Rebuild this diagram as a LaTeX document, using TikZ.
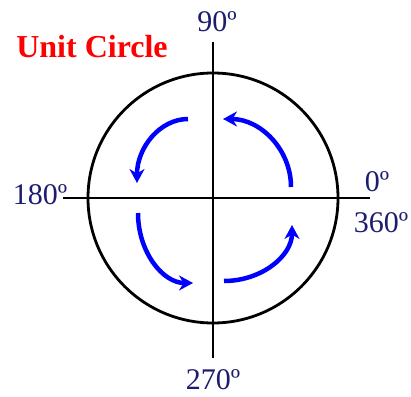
\documentclass[tikz,border=0pt]{standalone}
\usepackage{fontspec}
\setmainfont{Liberation Serif}
\usetikzlibrary{arrows.meta}
\definecolor{degnavy}{RGB}{28,28,112}
\tikzset{
  deglabel/.style={text=degnavy, inner sep=0pt, font=\fontsize{30}{36}\selectfont},
  turn/.style={blue, line width=4.5pt, -{Stealth[length=14pt,width=15pt]}}
}
\begin{document}
\begin{tikzpicture}[x=1pt, y=1pt]
    \useasboundingbox (-213,-198) rectangle (198,198);
    \coordinate (O) at (0,0);

    % Circle and axes
    \draw[line width=2.8pt] (O) circle[radius=125];
    \draw[line width=2.8pt] (-150,0) -- (157,0);
    \draw[line width=2.8pt] (0,156) -- (0,-160);

    % Title
    \node[text=red, inner sep=0pt, font=\fontsize{32}{38}\selectfont\bfseries] (title) at (-121,151) {Unit Circle};

    % Angle labels
    \node[deglabel] (deg90) at (4,176) {90º};
    \node[deglabel] (deg0) at (164,16) {0º};
    \node[deglabel] (deg180) at (-173,3) {180º};
    \node[deglabel] (deg360) at (168,-25) {360º};
    \node[deglabel] (deg270) at (0,-182) {270º};

    % Turning arrows, one per quadrant
    \draw[turn] (78,11) arc[start angle=0, end angle=90, radius=68];
    \draw[turn] (-25,79) arc[start angle=90, end angle=180, x radius=51, y radius=64];
    \draw[turn] (-75,-15) arc[start angle=180, end angle=270, x radius=55, y radius=70];
    \draw[turn] (11,-83) arc[start angle=270, end angle=360, x radius=68, y radius=56];
\end{tikzpicture}
\end{document}
